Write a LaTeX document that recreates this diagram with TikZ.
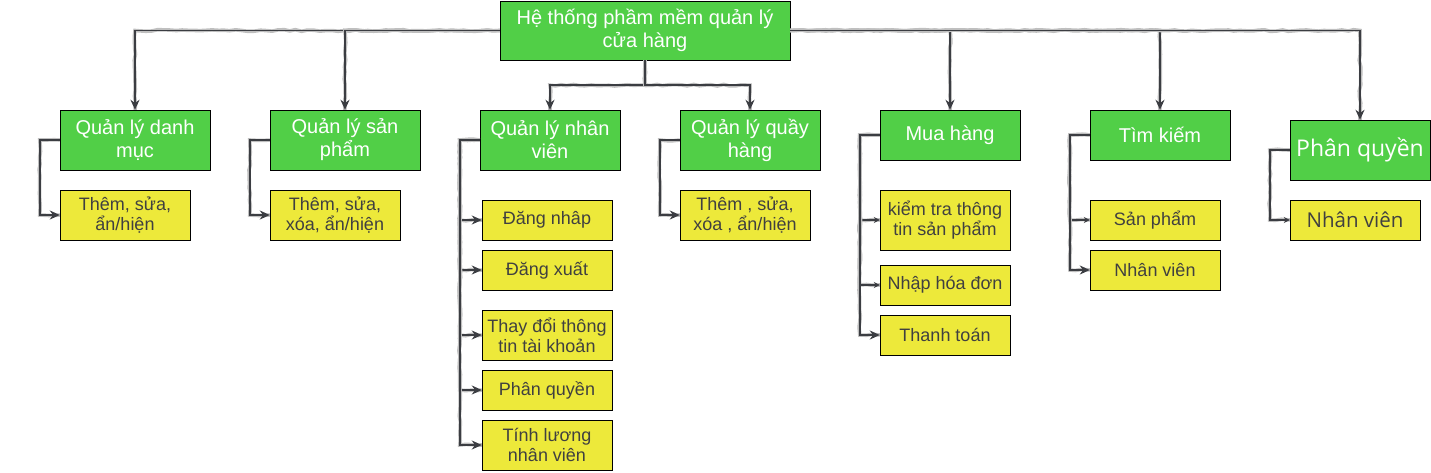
\documentclass[tikz,border=0pt]{standalone}
\usepackage{fontspec}
\setmainfont{Liberation Sans}
\newfontfamily\opensans{Open Sans}
\usetikzlibrary{arrows.meta}
\usetikzlibrary{decorations.pathmorphing}

\definecolor{boxgreen}{HTML}{51CF47}
\definecolor{boxyellow}{HTML}{EDE93A}
\definecolor{linegray}{HTML}{3B3D42}
\definecolor{textgray}{HTML}{404040}

\tikzset{
  mainbox/.style={draw=black, fill=boxgreen, text=white, align=center, inner sep=0pt,
    minimum width=140pt, minimum height=60pt, font=\fontsize{20}{23}\selectfont},
  subbox/.style={draw=black, fill=boxyellow, text=textgray, align=center, inner sep=0pt,
    minimum width=130pt, minimum height=40pt, font=\fontsize{18}{20}\selectfont},
  link/.style={draw=linegray, line width=1.8pt, -{Stealth[length=10pt,width=9pt]},
    preaction={-, draw=black!25, line width=3.6pt, decorate,
      decoration={random steps, segment length=6pt, amplitude=.8pt}}},
  thinlink/.style={link, -{Stealth[length=6pt,width=6pt]}},
}

\begin{document}
\pgfmathsetseed{7}
\begin{tikzpicture}[x=1pt,y=-1pt]
    \useasboundingbox (0,0) rectangle (1431,472);

    % top level
    \node[mainbox, minimum width=290pt, minimum height=59pt] (root) at (645,30.5) {Hệ thống phầm mềm quản lý\\cửa hàng};

    % second level
    \node[mainbox, minimum width=150pt] (danhmuc) at (135,140) {Quản lý danh\\mục};
    \node[mainbox, minimum width=150pt] (sanpham) at (345,140) {Quản lý sản\\phẩm};
    \node[mainbox] (nhanvien) at (550,140) {Quản lý nhân\\viên};
    \node[mainbox] (quay) at (750,140) {Quản lý quầy\\hàng};
    \node[mainbox, minimum height=50pt] (muahang) at (950,135) {Mua hàng};
    \node[mainbox, minimum height=50pt] (timkiem) at (1160,135) {Tìm kiếm};
    \node[mainbox, font=\opensans\fontsize{23}{26}\selectfont] (phanquyen) at (1360,150) {Phân quyền};

    % leaves
    \node[subbox, minimum height=50pt] (dmsua) at (125,215) {Thêm, sửa,\\ẩn/hiện};
    \node[subbox, minimum height=50pt] (spsua) at (335,215) {Thêm, sửa,\\xóa, ẩn/hiện};

    \node[subbox] (nvdangnhap) at (547,220) {Đăng nhâp};
    \node[subbox] (nvdangxuat) at (547,270) {Đăng xuất};
    \node[subbox, minimum height=50pt] (nvthaydoi) at (547,335) {Thay đổi thông\\tin tài khoản};
    \node[subbox] (nvphanquyen) at (547,390) {Phân quyền};
    \node[subbox, minimum height=50pt] (nvluong) at (547,445) {Tính lương\\nhân viên};

    \node[subbox, minimum height=50pt] (qhsua) at (745,215) {Thêm , sửa,\\xóa , ẩn/hiện};

    \node[subbox, minimum height=60pt] (mhkiemtra) at (945,220) {kiểm tra thông\\tin sản phẩm};
    \node[subbox] (mhnhap) at (945,285) {Nhập hóa đơn};
    \node[subbox] (mhthanhtoan) at (945,335) {Thanh toán};

    \node[subbox] (tksanpham) at (1155,220) {Sản phẩm};
    \node[subbox] (tknhanvien) at (1155,270) {Nhân viên};

    \node[subbox, font=\opensans\fontsize{20.5}{24}\selectfont] (pqnhanvien) at (1355,220) {Nhân viên};

    % root to second level
    \draw[link] (root.west) -| (danhmuc.north);
    \draw[link] (root.west) -| (sanpham.north);
    \draw[link] (root.south) -- ++(0,25) -| (nhanvien.north);
    \draw[link] (root.south) -- ++(0,25) -| (quay.north);
    \draw[link] (root.east) -| (muahang.north);
    \draw[link] (root.east) -| (timkiem.north);
    \draw[link] (root.east) -| (phanquyen.north);

    % second level to leaves
    \draw[link] (danhmuc.west) -- ++(-20,0) |- (dmsua.west);
    \draw[link] (sanpham.west) -- ++(-20,0) |- (spsua.west);
    \foreach \leaf in {nvdangnhap, nvdangxuat, nvthaydoi, nvphanquyen, nvluong}
        \draw[link] (nhanvien.west) -- ++(-20,0) |- (\leaf.west);
    \draw[link] (quay.west) -- ++(-20,0) |- (qhsua.west);
    \draw[thinlink] (muahang.west) -- ++(-20,0) |- (mhkiemtra.west);
    \draw[thinlink] (muahang.west) -- ++(-20,0) |- (mhnhap.west);
    \draw[link] (muahang.west) -- ++(-20,0) |- (mhthanhtoan.west);
    \draw[thinlink] (timkiem.west) -- ++(-20,0) |- (tksanpham.west);
    \draw[link] (timkiem.west) -- ++(-20,0) |- (tknhanvien.west);
    \draw[thinlink] (phanquyen.west) -- ++(-20,0) |- (pqnhanvien.west);
\end{tikzpicture}
\end{document}
